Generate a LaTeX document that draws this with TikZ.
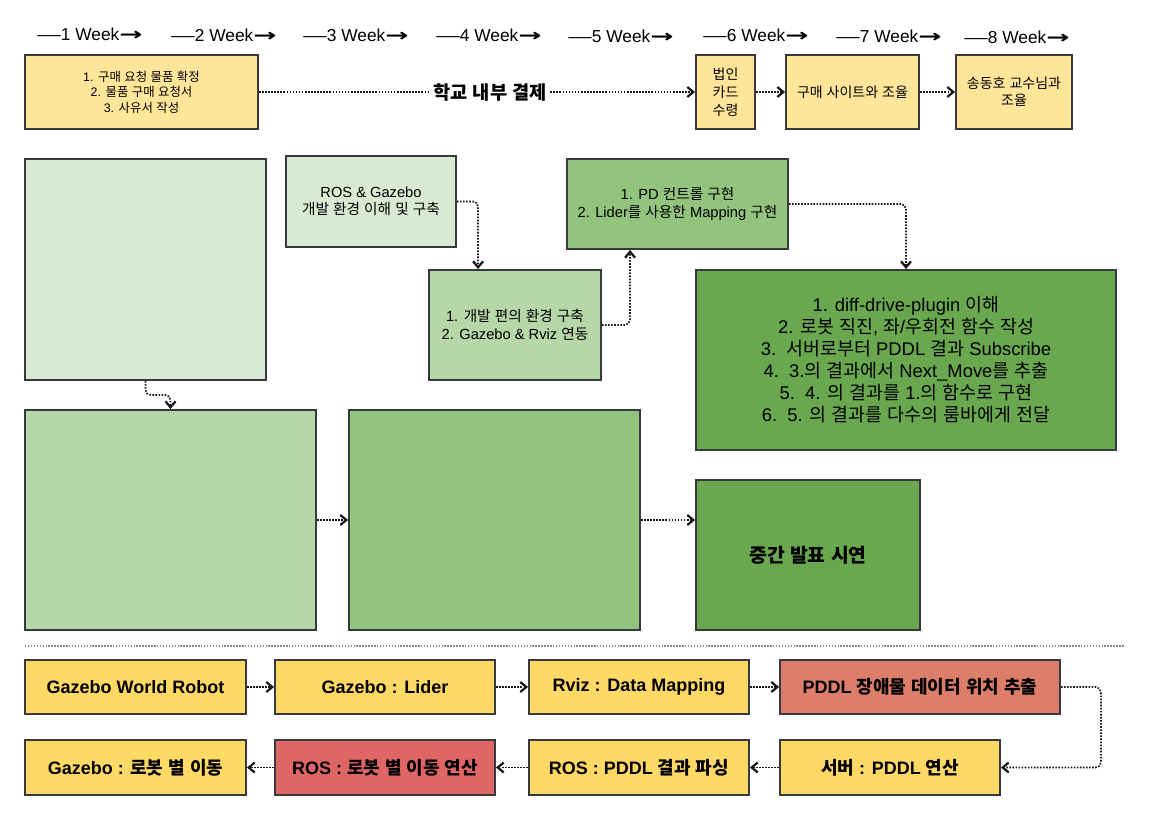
\documentclass[tikz,border=0pt]{standalone}
\usepackage{fontspec}
\setmainfont{Liberation Sans}
\newfontfamily\kr{Noto Sans CJK KR}
\newfontfamily\djv{DejaVu Sans}
\usetikzlibrary{arrows.meta,calc}
\XeTeXinterchartokenstate=1
\newXeTeXintercharclass\hgcls
\newcount\hgc \hgc="AC00
\loop \XeTeXcharclass\hgc=\hgcls \ifnum\hgc<"D7A3 \advance\hgc by 1 \repeat
\XeTeXinterchartoks 0 \hgcls={\kr}
\XeTeXinterchartoks 4095 \hgcls={\kr}
\XeTeXinterchartoks \hgcls 0={\rmfamily}
\XeTeXinterchartoks \hgcls 4095={\rmfamily}
\definecolor{bord}{HTML}{36393D}
\definecolor{lin}{HTML}{1A1A1A}
\definecolor{ylw}{HTML}{FFE599}
\definecolor{ylwb}{HTML}{FFD966}
\definecolor{gA}{HTML}{D9EAD3}
\definecolor{gB}{HTML}{B6D7A8}
\definecolor{gC}{HTML}{93C47D}
\definecolor{gD}{HTML}{6AA84F}
\definecolor{salm}{HTML}{DD7E6B}
\definecolor{redb}{HTML}{E06666}
\definecolor{sepc}{HTML}{888888}
\newcommand\boxat[7]{\node[#1, minimum width={(#5-#3)*0.75pt}, minimum height={(#6-#4)*0.75pt}] (#2) at ({(#3+#5)/2},{(#4+#6)/2}) {#7};}
\newcommand\wkl[1]{\scalebox{1.35}[1]{—}#1 Week{\djv\bfseries\scalebox{1.6}[1]{→}}}
\tikzset{
  bx/.style={draw=bord, line width=1.4pt, inner sep=1pt, align=center, text=black},
  small/.style={font=\fontsize{9.3}{11.5}\selectfont},
  med/.style={font=\fontsize{11}{13}\selectfont},
  bigt/.style={font=\fontsize{13.8}{16.5}\selectfont},
  boldt/.style={font=\fontsize{13.5}{15}\selectfont\bfseries},
  conn/.style={draw=lin, line width=1.3pt, dash pattern=on 1.2pt off 1.1pt, -{Straight Barb[length=4.5pt,width=7.5pt,line width=1.7pt]}, rounded corners=4pt},
  sepl/.style={draw=sepc, line width=1.3pt, dash pattern=on 1.1pt off 1.1pt},
  wk/.style={font=\fontsize{13}{14}\selectfont, inner sep=0pt},
}
\begin{document}
\begin{tikzpicture}[x=0.75pt,y=-0.75pt]
\fill[white] (0,0) rectangle (1149,815);
\useasboundingbox (0,0) rectangle (1149,815);
% week labels
\node[wk] (w1) at (90,34) {\wkl{1}};
\node[wk] (w2) at (224,35) {\wkl{2}};
\node[wk] (w3) at (356,35) {\wkl{3}};
\node[wk] (w4) at (489,35) {\wkl{4}};
\node[wk] (w5) at (621,36) {\wkl{5}};
\node[wk] (w6) at (756,35) {\wkl{6}};
\node[wk] (w7) at (889,36) {\wkl{7}};
\node[wk] (w8) at (1017,37) {\wkl{8}};
% top row
\boxat{bx,fill=ylw,small}{req}{25}{55}{258}{129}{1. 구매 요청 물품 확정\\2. 물품 구매 요청서\\3. 사유서 작성}
\boxat{bx,fill=ylw,font=\fontsize{10.5}{13.5}\selectfont}{card}{696}{55}{755}{129}{법인\\카드\\수령}
\boxat{bx,fill=ylw,font=\fontsize{10.5}{13}\selectfont}{site}{786}{55}{919}{129}{구매 사이트와 조율}
\boxat{bx,fill=ylw,font=\fontsize{10.5}{13}\selectfont}{prof}{956}{55}{1072}{129}{송동호 교수님과\\조율}
\draw[conn] (req.east) -- node[pos=0.53,fill=white,inner sep=2pt,font=\fontsize{14}{16}\selectfont\bfseries]{학교 내부 결제} (card.west);
\draw[conn] (card.east) -- (site.west);
\draw[conn] (site.east) -- (prof.west);
% middle
\boxat{bx,fill=gA}{bigA}{25}{159}{266}{380}{}
\boxat{bx,fill=gA,med}{rosg}{286}{156}{456}{247}{ROS \& Gazebo\\개발 환경 이해 및 구축}
\boxat{bx,fill=gB,med}{env}{429}{270}{601}{380}{1. 개발 편의 환경 구축\\2. Gazebo \& Rviz 연동}
\boxat{bx,fill=gC,med}{pd}{567}{159}{788}{249}{1. PD 컨트롤 구현\\2. Lider를 사용한 Mapping 구현}
\boxat{bx,fill=gD,bigt}{diff}{696}{270}{1116}{450}{1. diff-drive-plugin 이해\\2. 로봇 직진, 좌/우회전 함수 작성\\3.\ \ 서버로부터 PDDL 결과 Subscribe\\4.\ \ 3.의 결과에서 Next\_Move를 추출\\5.\ \ 4. 의 결과를 1.의 함수로 구현\\6.\ \ 5. 의 결과를 다수의 룸바에게 전달}
\boxat{bx,fill=gB}{bigB}{25}{410}{316}{630}{}
\boxat{bx,fill=gC}{bigC}{349}{410}{640}{630}{}
\boxat{bx,fill=gD,font=\fontsize{14.5}{16}\selectfont\bfseries}{mid}{696}{480}{920}{630}{중간 발표 시연}
\draw[conn] (bigA.south) -- ++(0,14) -| (bigB.north);
\draw[conn] (rosg.east) -| ($(env.north west)+(50,0)$);
\draw[conn] (env.east) -| ($(pd.south west)+(64,0)$);
\draw[conn] (pd.east) -| (diff.north);
\draw[conn] (bigB.east) -- (bigC.west);
\draw[conn] (bigC.east) -- (bigC.east -| mid.west);
% separator
\coordinate (s1) at (25,646);
\coordinate (s2) at (1125,646);
\draw[sepl] (s1) -- (s2);
% bottom
\boxat{bx,fill=ylwb,boldt}{gw}{25}{660}{246}{714}{Gazebo World Robot}
\boxat{bx,fill=ylwb,boldt}{gl}{275}{660}{495}{714}{Gazebo : Lider}
\boxat{bx,fill=ylwb,boldt}{rv}{529}{660}{749}{714}{Rviz : Data Mapping}
\boxat{bx,fill=salm,boldt}{pddl}{780}{660}{1060}{714}{PDDL 장애물 데이터 위치 추출}
\boxat{bx,fill=ylwb,boldt}{gz}{25}{740}{246}{795}{Gazebo : 로봇 별 이동}
\boxat{bx,fill=redb,boldt}{rosm}{275}{740}{495}{795}{ROS : 로봇 별 이동 연산}
\boxat{bx,fill=ylwb,boldt}{rosp}{529}{740}{749}{795}{ROS : PDDL 결과 파싱}
\boxat{bx,fill=ylwb,boldt}{srv}{780}{740}{1000}{795}{서버 : PDDL 연산}
\draw[conn] (gw.east) -- (gl.west);
\draw[conn] (gl.east) -- (rv.west);
\draw[conn] (rv.east) -- (pddl.west);
\draw[conn] (pddl.east) -- ++(40,0) |- (srv.east);
\draw[conn] (srv.west) -- (rosp.east);
\draw[conn] (rosp.west) -- (rosm.east);
\draw[conn] (rosm.west) -- (gz.east);
\end{tikzpicture}
\end{document}
